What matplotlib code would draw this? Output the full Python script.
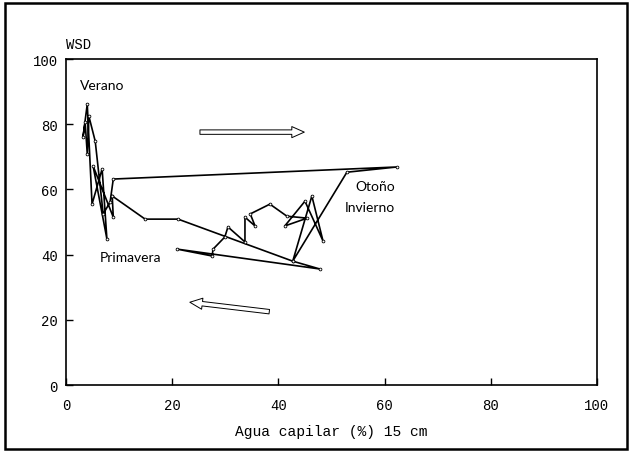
import matplotlib
matplotlib.use("Agg")
import matplotlib.pyplot as plt
from matplotlib.patches import Rectangle, FancyArrowPatch

# Path of seasonal observations (Agua capilar % at 15 cm vs WSD)
agua = [8.7, 8.9, 5.1, 7.7, 6.8, 4.9, 4.0, 3.2, 3.6, 4.0, 4.3, 5.5, 7.0, 8.3, 8.9,
        62.3, 52.9, 42.7, 46.3, 48.4, 45.0, 41.2, 45.4, 41.6, 38.4, 34.7, 35.6,
        33.7, 33.7, 30.5, 29.9, 27.7, 27.5, 20.9, 47.8, 42.7, 21.1, 14.9, 8.7]
wsd = [58.0, 51.5, 67.2, 44.8, 66.3, 55.5, 86.2, 76.1, 80.7, 70.9, 82.5, 74.8, 52.5, 56.1, 63.2,
       66.9, 65.3, 38.0, 58.0, 44.2, 56.4, 48.8, 51.2, 51.8, 55.5, 52.5, 48.8,
       51.5, 43.9, 48.5, 45.4, 41.7, 39.6, 41.7, 35.6, 38.0, 50.9, 50.9, 58.0]

season_labels = ["Verano", "Primavera", "Otoño", "Invierno"]
season_x = [2.6, 6.3, 62.0, 62.0]
season_y = [92.0, 39.3, 61.0, 54.6]
season_ha = ["left", "left", "right", "right"]

xticks = [0, 20, 40, 60, 80, 100]
yticks = [0, 20, 40, 60, 80, 100]

fig = plt.figure(figsize=(6.30, 4.52), dpi=100)
ax = fig.add_axes([0.1048, 0.146, 0.8428, 0.721])

ax.plot(agua, wsd, color="black", lw=1.2, marker="o", ms=2.0,
        mfc="white", mec="black", mew=0.6)

ax.set_xlim(0, 100)
ax.set_ylim(0, 100)
ax.set_xticks(xticks)
ax.set_yticks(yticks)
mono = "Liberation Mono"
ax.set_xticklabels([str(t) for t in xticks], family=mono, fontsize=10)
ax.set_yticklabels([str(t) for t in yticks], family=mono, fontsize=10)
ax.tick_params(axis="x", direction="in", length=5, width=1, pad=9)
ax.tick_params(axis="y", direction="in", length=5, width=1, pad=6)
for s in ax.spines.values():
    s.set_linewidth(1.2)
ax.set_xlabel("Agua capilar (%) 15 cm", family=mono, fontsize=10.5, labelpad=9)
fig.text(0.105, 0.90, "WSD", family=mono, fontsize=10, ha="left", va="center")

for lab, lx, ly, ha in zip(season_labels, season_x, season_y, season_ha):
    ax.text(lx, ly, lab, family="Lato", fontsize=10, ha=ha, va="center")

# hollow arrows showing direction of travel
style = "simple,head_length=9,head_width=8,tail_width=3.2"
ax.add_patch(FancyArrowPatch((24.7, 77.6), (45.4, 77.6), arrowstyle=style,
                             fc="white", ec="black", lw=0.7, mutation_scale=1))
ax.add_patch(FancyArrowPatch((38.8, 22.4), (22.8, 25.5), arrowstyle=style,
                             fc="white", ec="black", lw=0.7, mutation_scale=1))

# outer frame
fig.patches.append(Rectangle((0.008, 0.005), 0.987, 0.986, transform=fig.transFigure,
                             fill=False, ec="black", lw=1.8))

fig.savefig("out.png", dpi=100)
